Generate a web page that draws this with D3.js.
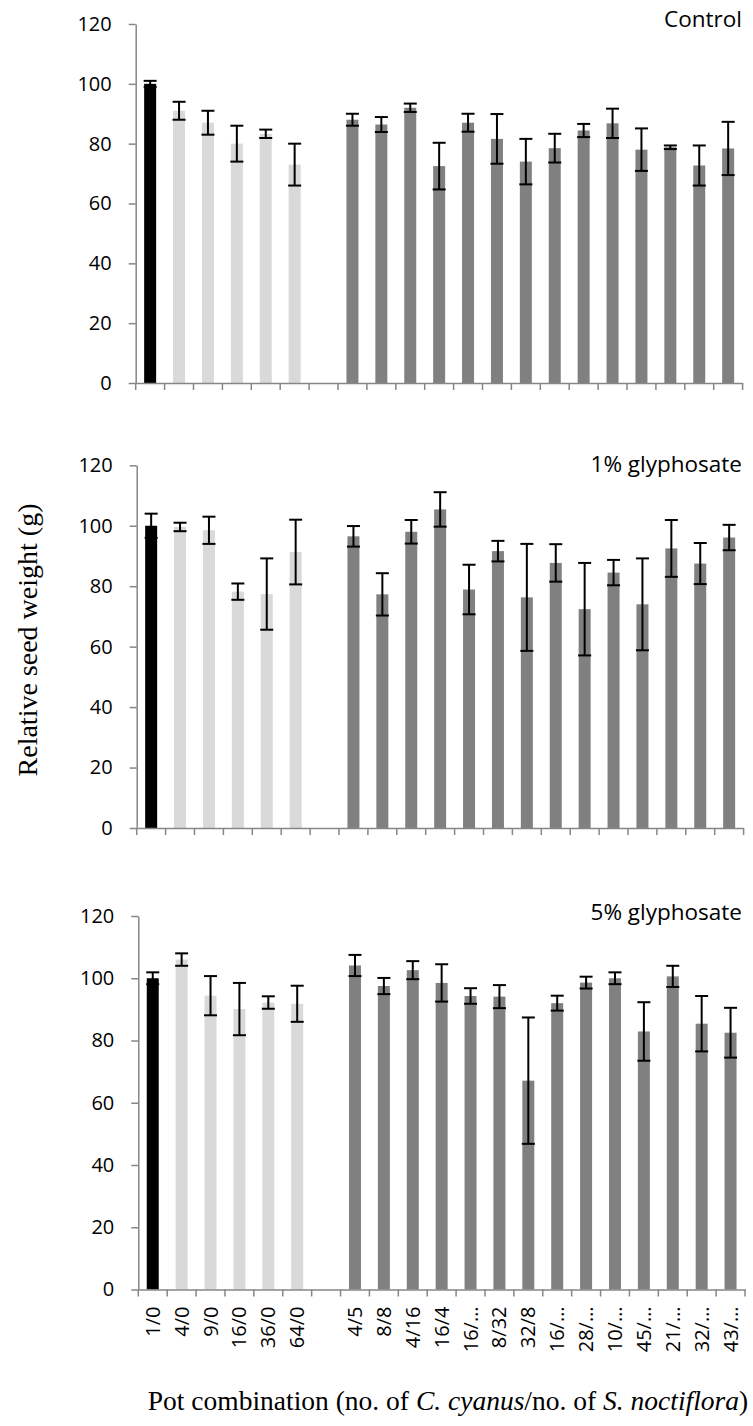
<!DOCTYPE html>
<html>
<head>
<meta charset="utf-8">
<script src="https://cdn.jsdelivr.net/npm/d3@7"></script>
<style>
  body { margin: 0; background: #fff; }
  svg { display: block; }
</style>
</head>
<body>
<div id="chart"></div>
<script>
// pot combinations (empty slot = gap between monocultures and mixtures)
const categories = ["1/0", "4/0", "9/0", "16/0", "36/0", "64/0", "",
  "4/5", "8/8", "4/16", "16/4", "16/…", "8/32", "32/8", "16/…", "28/…",
  "10/…", "45/…", "21/…", "32/…", "43/…"];
const groups = ["ref", "mono", "mono", "mono", "mono", "mono", "gap",
  "mix", "mix", "mix", "mix", "mix", "mix", "mix", "mix", "mix",
  "mix", "mix", "mix", "mix", "mix"];

const controlVals = [100, 91, 87, 80, 83.3, 73, null, 88, 86.4, 92, 72.5, 87, 81.6, 74, 78.5, 84.4, 86.8, 78, 78.8, 72.7, 78.4];
const controlErr  = [1, 3, 4, 6, 1.4, 7, null, 2, 2.5, 1.4, 7.8, 3, 8.3, 7.6, 4.8, 2.2, 4.9, 7.1, 0.6, 6.7, 8.9];
const gly1Vals = [100, 99.6, 98.5, 78.2, 77.4, 91.3, null, 96.5, 77.3, 98, 105.4, 78.9, 91.6, 76.3, 87.7, 72.4, 84.5, 74, 92.5, 87.5, 96.1];
const gly1Err  = [4, 1.4, 4.5, 2.7, 11.8, 10.7, null, 3.4, 7, 3.9, 5.7, 8.2, 3.4, 17.7, 6.2, 15.3, 4.2, 15.2, 9.4, 6.8, 4.2];
const gly5Vals = [100, 106, 94.4, 90.1, 92.2, 91.8, null, 104.1, 97.5, 102.6, 98.5, 94.3, 94.1, 67.1, 92, 98.6, 100, 82.9, 100.6, 85.4, 82.5];
const gly5Err  = [1.9, 2, 6.3, 8.4, 2, 5.8, null, 3.4, 2.6, 2.9, 6, 2.5, 3.7, 20.3, 2.4, 1.9, 1.9, 9.4, 3.4, 8.9, 8];

const panelTitles = ["Control", "1% glyphosate", "5% glyphosate"];
const yTicks = [0, 20, 40, 60, 80, 100, 120];

const width = 753;
const height = 1426;

// each panel's plot box
const panels = [
  { vals: controlVals, err: controlErr, top: 24, bottom: 383, left: 135.7, right: 742.6, titleY: 27 },
  { vals: gly1Vals, err: gly1Err, top: 465.3, bottom: 828, left: 136.7, right: 743.6, titleY: 471.5 },
  { vals: gly5Vals, err: gly5Err, top: 916, bottom: 1289.5, left: 138.3, right: 745, titleY: 920, labels: true }
];

const color = d3.scaleOrdinal()
  .domain(["ref", "mono", "mix"])
  .range(["#000000", "#d9d9d9", "#808080"]);

const axisColor = "#868686";
const sans = "'Open Sans', sans-serif";
const serif = "'Liberation Serif', 'Times New Roman', serif";

const svg = d3.select("#chart")
  .append("svg")
  .attr("width", width)
  .attr("height", height)
  .attr("viewBox", [0, 0, width, height]);

panels.forEach((p, k) => {
  const x = d3.scaleBand()
    .domain(d3.range(categories.length))
    .range([p.left, p.right])
    .paddingInner(0.585)
    .paddingOuter(0.2925);

  const y = d3.scaleLinear()
    .domain([0, 120])
    .range([p.bottom, p.top]);

  const g = svg.append("g");

  // bars
  const rows = d3.range(categories.length).filter(i => p.vals[i] != null);
  g.append("g")
    .selectAll("rect")
    .data(rows)
    .join("rect")
      .attr("x", i => x(i))
      .attr("y", i => y(p.vals[i]))
      .attr("width", x.bandwidth())
      .attr("height", i => y(0) - y(p.vals[i]))
      .attr("fill", i => color(groups[i]));

  // error bars
  const cap = 6.5;
  const eb = g.append("g")
    .attr("stroke", "#000")
    .attr("stroke-width", 2)
    .selectAll("g")
    .data(rows)
    .join("g")
      .attr("transform", i => `translate(${x(i) + x.bandwidth() / 2},0)`);
  eb.append("line")
    .attr("y1", i => y(p.vals[i] + p.err[i]))
    .attr("y2", i => y(p.vals[i] - p.err[i]));
  eb.append("line")
    .attr("x1", -cap).attr("x2", cap)
    .attr("y1", i => y(p.vals[i] + p.err[i]))
    .attr("y2", i => y(p.vals[i] + p.err[i]));
  eb.append("line")
    .attr("x1", -cap).attr("x2", cap)
    .attr("y1", i => y(p.vals[i] - p.err[i]))
    .attr("y2", i => y(p.vals[i] - p.err[i]));

  // y axis
  const yAxis = g.append("g")
    .attr("transform", `translate(${p.left},0)`)
    .call(d3.axisLeft(y).tickValues(yTicks).tickSize(7).tickSizeOuter(0).tickPadding(17));
  yAxis.selectAll("path, line").attr("stroke", axisColor).attr("stroke-width", 1.5);
  yAxis.selectAll("text")
    .attr("fill", "#000")
    .attr("font-family", sans)
    .attr("font-size", 20);

  // x axis, ticks sit between categories
  const xAxis = g.append("g")
    .attr("transform", `translate(0,${p.bottom})`)
    .call(d3.axisBottom(x).tickSize(7).tickSizeOuter(0)
      .tickFormat(i => p.labels ? categories[i] : ""));
  xAxis.select(".domain").attr("stroke", axisColor).attr("stroke-width", 1.5);
  xAxis.selectAll(".tick line")
    .attr("stroke", axisColor).attr("stroke-width", 1.5)
    .attr("transform", `translate(${-x.step() / 2},0)`);
  xAxis.append("line")
    .attr("x1", p.right).attr("x2", p.right)
    .attr("y1", 0).attr("y2", 7)
    .attr("stroke", axisColor).attr("stroke-width", 1.5);
  xAxis.selectAll(".tick text")
    .attr("fill", "#000")
    .attr("font-family", sans)
    .attr("font-size", 20)
    .attr("transform", "rotate(-90)")
    .attr("text-anchor", "end")
    .attr("x", -17)
    .attr("y", 0)
    .attr("dy", "0.35em");

  // panel title
  g.append("text")
    .attr("x", 742)
    .attr("y", p.titleY)
    .attr("text-anchor", "end")
    .attr("font-family", sans)
    .attr("font-size", 22.5)
    .text(panelTitles[k]);
});

// axis titles
svg.append("text")
  .attr("transform", "translate(37,640) rotate(-90)")
  .attr("text-anchor", "middle")
  .attr("font-family", serif)
  .attr("font-size", 28)
  .text("Relative seed weight (g)");

const xt = svg.append("text")
  .attr("x", 448)
  .attr("y", 1410)
  .attr("text-anchor", "middle")
  .attr("font-family", serif)
  .attr("font-size", 27.5);
xt.append("tspan").text("Pot combination (no. of ");
xt.append("tspan").attr("font-style", "italic").text("C. cyanus");
xt.append("tspan").text("/no. of ");
xt.append("tspan").attr("font-style", "italic").text("S. noctiflora");
xt.append("tspan").text(")");
</script>
</body>
</html>
